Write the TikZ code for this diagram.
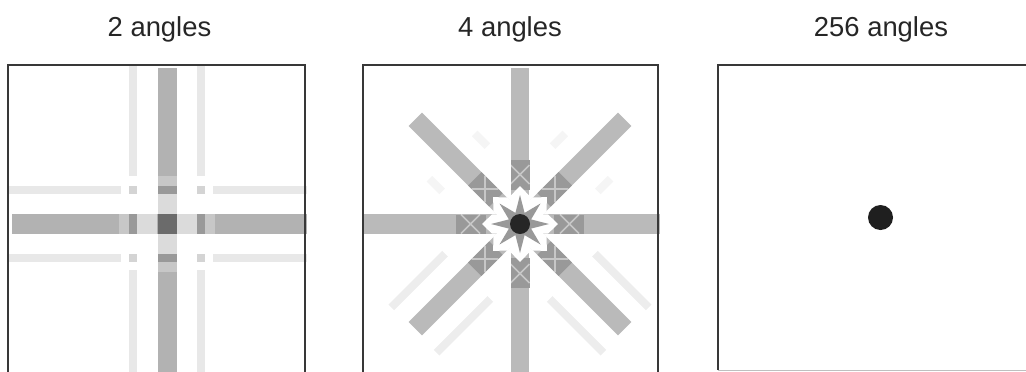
\documentclass[tikz,border=0pt]{standalone}
\usepackage{fontspec}
\setmainfont{Liberation Sans}
\usetikzlibrary{positioning,calc}

\colorlet{framegray}{black!78}
\colorlet{barmid}{black!30}
\colorlet{barfaint}{black!9}
\colorlet{barcross}{black!40}
\colorlet{barcore}{black!58}
\colorlet{barlite}{black!14}

\begin{document}
\begin{tikzpicture}[x=0.025cm,y=-0.025cm,
    frame/.style={draw=framegray, line width=1.1pt},
    title/.style={font=\fontsize{19.5}{22}\selectfont, anchor=base, text=black!85},
    bar/.style={fill=barmid},
    faint/.style={fill=barfaint},
    streak/.style={fill=black!7}]
    \useasboundingbox (0,0) rectangle (1026,371);
    \clip (0,0) rectangle (1026,371);

    % Titles
    \node[title] (t2) at (159.5,36) {2 angles};
    \node[title] (t4) at (510,36) {4 angles};
    \node[title] (t256) at (881,36) {256 angles};

    % Centres of the three reconstructions
    \coordinate (c2) at (167,224);
    \coordinate (c4) at (520,224);
    \coordinate (c256) at (880.5,217.5);

    % ---- 2 angles ----
    \begin{scope}[shift={(c2)}]
        % faint side bars
        \foreach \o in {-34,34} {
            \fill[faint] (\o-4,-160) rectangle (\o+4,-48);
            \fill[faint] (\o-4,46) rectangle (\o+4,160);
            \fill[faint] (-160,\o-4) rectangle (-46,\o+4);
            \fill[faint] (46,\o-4) rectangle (140,\o+4);
        }
        % main bars
        \fill[bar] (-9.5,-156) rectangle (9.5,160);
        \fill[bar] (-155,-10) rectangle (140,10);
        % lighter stretch near the centre
        \foreach \s in {-1,1} {
            \fill[barlite] (-9.5,\s*10) rectangle (9.5,\s*30);
            \fill[barlite] (\s*10,-10) rectangle (\s*30,10);
            \fill[black!22] (\s*38,-10) rectangle (\s*48,10);
            \fill[black!22] (-9.5,\s*38) rectangle (9.5,\s*48);
        }
        % crossings
        \foreach \o in {-34,34} {
            \fill[barcross] (\o-4,-10) rectangle (\o+4,10);
            \fill[barcross] (-9.5,\o-4) rectangle (9.5,\o+4);
            \foreach \p in {-34,34}
                \fill[black!17] (\o-4,\p-4) rectangle (\o+4,\p+4);
        }
        \fill[barcore] (-9.5,-10) rectangle (9.5,10);
    \end{scope}
    \draw[frame] (8,400) |- (305,65) -- (305,400);

    % ---- 4 angles ----
    \begin{scope}[shift={(c4)}]
        % faint streaks beside the diagonals
        \foreach \a in {-45,-135} {
            \fill[streak, rotate=\a] (74,28) rectangle (150,36);
            \fill[streak, rotate=\a] (74,-36) rectangle (150,-28);
        }
        \foreach \a in {45,135} {
            \fill[black!4, rotate=\a] (78,28) rectangle (96,36);
            \fill[black!4, rotate=\a] (78,-36) rectangle (96,-28);
        }
        % bars
        \fill[bar, fill=black!27] (-157,-10) rectangle (140,10);
        \fill[bar, fill=black!27] (-9,-156) rectangle (9,160);
        \foreach \a in {45,135}
            \fill[bar, fill=black!27, rotate=\a] (-148,-9.5) rectangle (148,9.5);
        % darker chequered stretch
        \foreach \a in {0,45,...,315} {
            \fill[barcross, rotate=\a] (34,-9.5) rectangle (64,9.5);
            \draw[white, opacity=0.45, line width=1.2pt, rotate=\a]
                (40,-9.5) -- (59,9.5) (40,9.5) -- (59,-9.5);
        }
        % white gaps round the centre
        \foreach \a in {0,45,...,315}
            \fill[white, rotate=\a] (0,-9.6) -- (28,-9.6) -- (38,0)
                -- (28,9.6) -- (0,9.6) -- cycle;
        % star and dot
        \fill[black!40] (0:29) \foreach \a in {22.5,45,...,337.5} {
            -- ({\a}:{mod(\a,45)==0 ? 29 : 12})} -- cycle;
        \fill[black!85] (0,0) circle (10);
    \end{scope}
    \draw[frame] (363,400) |- (658,65) -- (658,400);

    % ---- 256 angles ----
    \fill[black!88] (c256) circle (12.5);
    \draw[frame] (718,370) |- (1030,65);
    \draw[black!25, line width=0.6pt] (718,370) -- (1030,370);
\end{tikzpicture}
\end{document}
